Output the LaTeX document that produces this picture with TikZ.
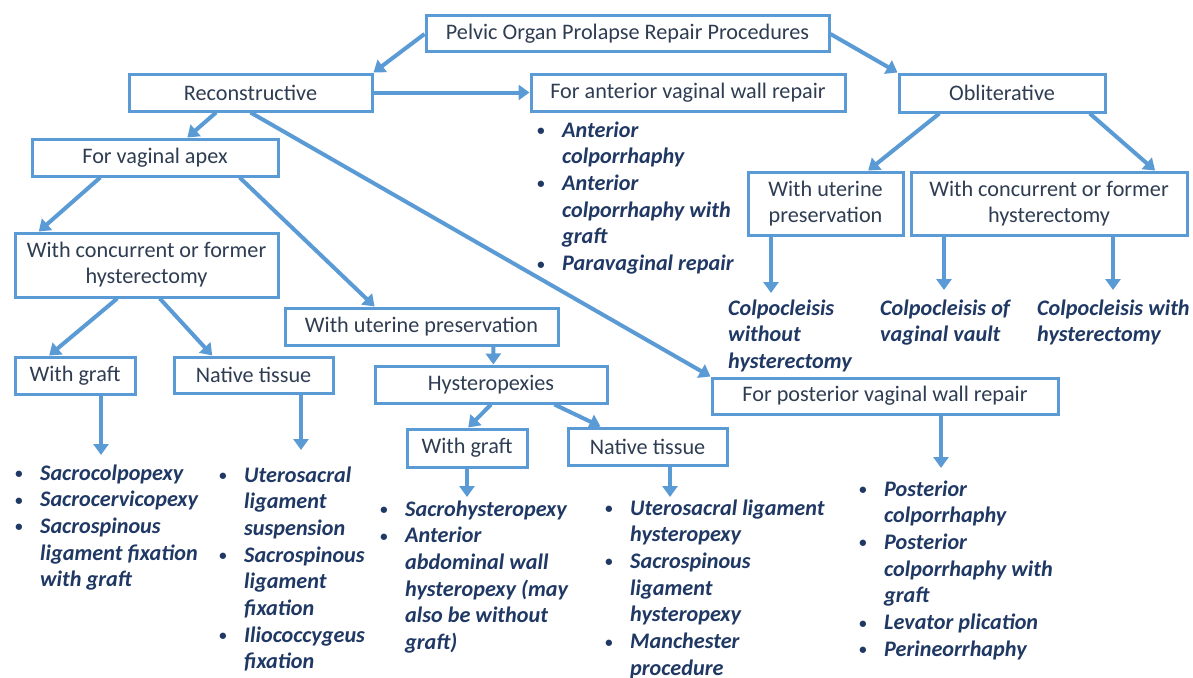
\documentclass[tikz,border=0pt]{standalone}
\usepackage{fontspec}
\setmainfont{Carlito}
\usetikzlibrary{arrows.meta,calc}
\definecolor{bord}{HTML}{5B9BD5}
\definecolor{btext}{HTML}{2F3D52}
\definecolor{ltext}{HTML}{1F3864}
\newcommand{\bul}{{\fontsize{15}{15}\selectfont\raisebox{1.5pt}{•}}}
\newcommand{\blist}[1]{\begin{tabular}[t]{@{}p{25pt}@{}l@{}}#1\end{tabular}}
\newcommand{\plist}[1]{\begin{tabular}[t]{@{}l@{}}#1\end{tabular}}
\newcommand{\pt}[3]{($(#1.south west)!#2!(#1.south east)$)}
\begin{document}
\begin{tikzpicture}[x=1pt,y=-1pt,
  box/.style={draw=bord,line width=3pt,text=btext,fill=white,
    font=\fontsize{22.2}{26}\selectfont,inner sep=0pt,align=center},
  arr/.style={draw=bord,line width=4pt,-{Triangle[length=11pt,width=15pt]}},
  lst/.style={anchor=base west,inner sep=0pt,text=ltext,
    font=\fontsize{22.2}{26.7}\selectfont\bfseries\itshape}]
\useasboundingbox[fill=white] (0,0) rectangle (1193,677);

% boxes
\node[box,minimum width=403pt,minimum height=36pt] (root) at (627.5,34) {Pelvic Organ Prolapse Repair Procedures};
\node[box,minimum width=243pt,minimum height=37pt] (recon) at (250.5,92.5) {Reconstructive};
\node[box,minimum width=314pt,minimum height=37pt] (ant) at (688,92.5) {For anterior vaginal wall repair};
\node[box,minimum width=206pt,minimum height=38pt] (obl) at (1002,93) {Obliterative};
\node[box,minimum width=246pt,minimum height=37pt] (apex) at (155,157.5) {For vaginal apex};
\node[box,minimum width=263pt,minimum height=64pt] (lhyst) at (146.5,265) {With concurrent or former\\hysterectomy};
\node[box,minimum width=273pt,minimum height=37pt] (muter) at (421.5,326.5) {With uterine preservation};
\node[box,minimum width=120pt,minimum height=37pt] (lgraft) at (75,375.5) {With graft};
\node[box,minimum width=159pt,minimum height=36pt] (lnative) at (253.5,375) {Native tissue};
\node[box,minimum width=232pt,minimum height=37pt] (hyst) at (491,384.5) {Hysteropexies};
\node[box,minimum width=120pt,minimum height=38pt] (mgraft) at (467,448) {With graft};
\node[box,minimum width=159pt,minimum height=37pt] (mnative) at (647.5,446.5) {Native tissue};
\node[box,minimum width=346pt,minimum height=36pt] (post) at (885,396) {For posterior vaginal wall repair};
\node[box,minimum width=155pt,minimum height=63pt] (ruter) at (825.5,203.5) {With uterine\\preservation};
\node[box,minimum width=276pt,minimum height=63pt] (rhyst) at (1049,203.5) {With concurrent or former\\hysterectomy};

% lists
\node[lst] (antl) at (537,137) {\blist{\bul&Anterior\\&colporrhaphy\\\bul&Anterior\\&colporrhaphy with\\&graft\\\bul&Paravaginal repair}};
\node[lst] (lgraftl) at (15,480) {\blist{\bul&Sacrocolpopexy\\\bul&Sacrocervicopexy\\\bul&Sacrospinous\\&ligament fixation\\&with graft}};
\node[lst] (lnativel) at (219,482) {\blist{\bul&Uterosacral\\&ligament\\&suspension\\\bul&Sacrospinous\\&ligament\\&fixation\\\bul&Iliococcygeus\\&fixation}};
\node[lst] (mgraftl) at (380,516) {\blist{\bul&Sacrohysteropexy\\\bul&Anterior\\&abdominal wall\\&hysteropexy (may\\&also be without\\&graft)}};
\node[lst] (mnativel) at (605,515) {\blist{\bul&Uterosacral ligament\\&hysteropexy\\\bul&Sacrospinous\\&ligament\\&hysteropexy\\\bul&Manchester\\&procedure}};
\node[lst] (postl) at (859,496) {\blist{\bul&Posterior\\&colporrhaphy\\\bul&Posterior\\&colporrhaphy with\\&graft\\\bul&Levator plication\\\bul&Perineorrhaphy}};
\node[lst] (c1) at (728,315) {\plist{Colpocleisis\\without\\hysterectomy}};
\node[lst] (c2) at (880,315) {\plist{Colpocleisis of\\vaginal vault}};
\node[lst] (c3) at (1037,315) {\plist{Colpocleisis with\\hysterectomy}};

% free ends
\coordinate (e1) at (101,455);
\coordinate (e2) at (301,450);
\coordinate (e3) at (467,497);
\coordinate (e4) at (670,497);
\coordinate (e5) at (941,468);
\coordinate (e6) at (771,293);
\coordinate (e7) at (944,290);
\coordinate (e8) at (1113,290);

% connectors
\draw[arr] (root.west) -- (recon.north east);
\draw[arr] (root.east) -- (obl.north west);
\draw[arr] (recon.east) -- (ant.west);
\draw[arr] \pt{recon}{0.36}{} -- ($(apex.north west)!0.63!(apex.north east)$);
\draw[arr] (recon.south) -- (post.north west);
\draw[arr] \pt{apex}{0.28}{} -- ($(lhyst.north west)!0.095!(lhyst.north east)$);
\draw[arr] \pt{apex}{0.84}{} -- ($(muter.north west)!0.33!(muter.north east)$);
\draw[arr] \pt{lhyst}{0.39}{} -- ($(lgraft.north west)!0.29!(lgraft.north east)$);
\draw[arr] \pt{lhyst}{0.55}{} -- ($(lnative.north west)!0.245!(lnative.north east)$);
\draw[arr] \pt{muter}{0.76}{} -- ($(hyst.north west)!0.51!(hyst.north east)$);
\draw[arr] \pt{hyst}{0.50}{} -- ($(mgraft.north west)!0.51!(mgraft.north east)$);
\draw[arr] \pt{hyst}{0.77}{} -- ($(mnative.north west)!0.21!(mnative.north east)$);
\draw[arr] (lgraft.south -| e1) -- (e1);
\draw[arr] (lnative.south -| e2) -- (e2);
\draw[arr] (mgraft.south -| e3) -- (e3);
\draw[arr] (mnative.south -| e4) -- (e4);
\draw[arr] (post.south -| e5) -- (e5);
\draw[arr] \pt{obl}{0.2}{} -- ($(ruter.north west)!0.77!(ruter.north east)$);
\draw[arr] \pt{obl}{0.92}{} -- ($(rhyst.north west)!0.88!(rhyst.north east)$);
\draw[arr] (ruter.south -| e6) -- (e6);
\draw[arr] (rhyst.south -| e7) -- (e7);
\draw[arr] (rhyst.south -| e8) -- (e8);
\end{tikzpicture}
\end{document}
